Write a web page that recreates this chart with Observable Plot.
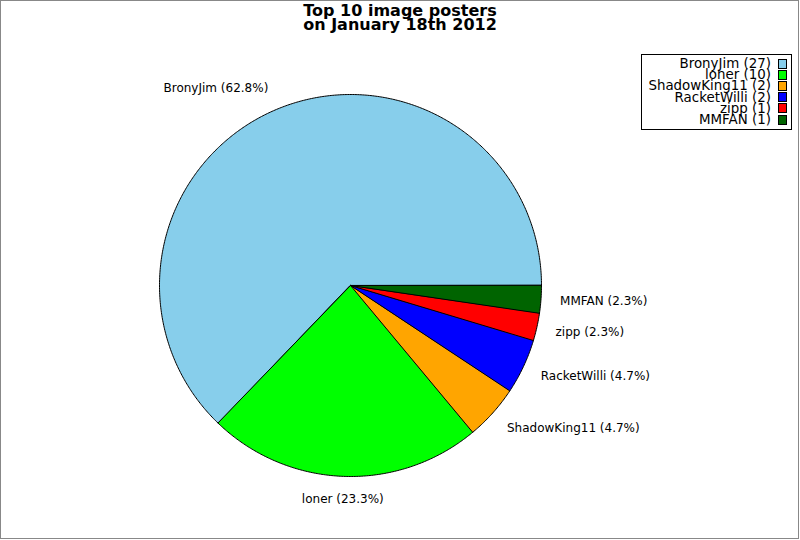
<!DOCTYPE html>
<html><head><meta charset="utf-8">
<script src="https://cdn.jsdelivr.net/npm/d3@7"></script>
<script src="https://cdn.jsdelivr.net/npm/@observablehq/plot@0.6"></script>
<style>
body{margin:0;background:#fff;font-family:"DejaVu Sans";}
#wrap{position:relative;width:800px;height:540px;overflow:hidden;background:#fff}
#border{position:absolute;left:0;top:0;width:799px;height:539px;box-sizing:border-box;border:1px solid #888;pointer-events:none}
#chart{position:absolute;left:0;top:0}
#title{position:absolute;left:0;top:4px;width:800px;text-align:center;font:bold 16px "DejaVu Sans";line-height:14px;color:#000}
#legend{position:absolute;left:641px;top:54px;width:151px;height:76px;box-sizing:border-box;border:1px solid #000;background:#fff;padding-top:3px}
.row{display:flex;justify-content:flex-end;align-items:center;height:11.2px;padding-right:4px;font-size:13.4px;line-height:11.2px;color:#000}
.sw{width:7px;height:8px;border:1px solid #000;margin-left:7px;flex:none}
</style>
</head><body>
<div id="wrap">
  <div id="chart"></div>
  <div id="title">Top 10 image posters<br>on January 18th 2012</div>
  <div id="legend"></div>
  <div id="border"></div>
</div>
<script>
const names = ["BronyJim", "loner", "ShadowKing11", "RacketWilli", "zipp", "MMFAN"];
const counts = [27, 10, 2, 2, 1, 1];
const colors = ["#87ceeb", "#00ff00", "#ffa500", "#0000ff", "#ff0000", "#006400"];

const R = 191, CX = 350, CY = 285, W = 800, H = 540;
const total = d3.sum(counts);

// slice polygons in unit-circle coordinates, angles counter-clockwise from 3 o'clock
const slices = [];
const labels = [];
let cum = 0;
names.forEach((name, i) => {
  const a0 = cum / total * 2 * Math.PI;
  cum += counts[i];
  const a1 = cum / total * 2 * Math.PI;
  slices.push({name, x: 0, y: 0});
  const steps = Math.max(2, Math.ceil((a1 - a0) / (Math.PI / 360)));
  for (let k = 0; k <= steps; k++) {
    const a = a0 + (a1 - a0) * k / steps;
    slices.push({name, x: Math.cos(a), y: Math.sin(a)});
  }
  const am = (a0 + a1) / 2;
  const c = Math.cos(am), s = Math.sin(am);
  labels.push({
    name,
    text: `${name} (${(counts[i] / total * 100).toFixed(1)}%)`,
    x: 1.1 * c, y: 1.12 * s,
    anchor: c > 0.1 ? "start" : c < -0.1 ? "end" : "middle"
  });
});

const textOpts = {x: "x", y: "y", text: "text", fontSize: 12, fill: "black", lineAnchor: "middle"};

const plot = Plot.plot({
  width: W, height: H, margin: 0,
  style: {fontFamily: "DejaVu Sans", background: "transparent", overflow: "visible"},
  x: {domain: [-CX / R, (W - CX) / R], axis: null},
  y: {domain: [-(H - CY) / R, CY / R], axis: null},
  color: {domain: names, range: colors},
  marks: [
    Plot.line(slices, {x: "x", y: "y", z: "name", fill: "name", stroke: "black", strokeWidth: 1, curve: "linear-closed"}),
    Plot.text(labels.filter(d => d.anchor === "start"), {...textOpts, textAnchor: "start"}),
    Plot.text(labels.filter(d => d.anchor === "end"), {...textOpts, textAnchor: "end"}),
    Plot.text(labels.filter(d => d.anchor === "middle"), {...textOpts, textAnchor: "middle"})
  ]
});
document.getElementById("chart").appendChild(plot);

const legend = document.getElementById("legend");
names.forEach((name, i) => {
  const row = document.createElement("div");
  row.className = "row";
  const t = document.createElement("span");
  t.textContent = `${name} (${counts[i]})`;
  const sw = document.createElement("span");
  sw.className = "sw";
  sw.style.background = colors[i];
  row.appendChild(t);
  row.appendChild(sw);
  legend.appendChild(row);
});
</script>
</body></html>
